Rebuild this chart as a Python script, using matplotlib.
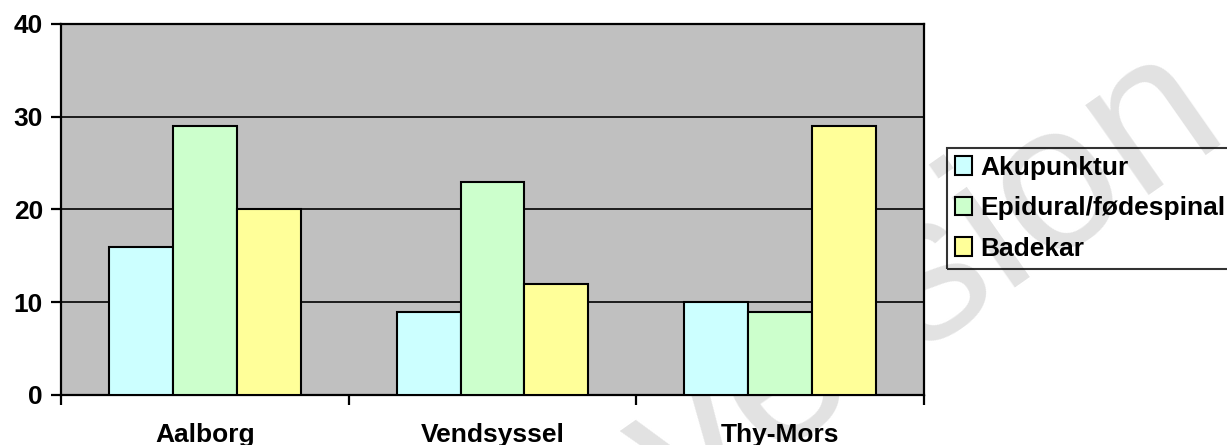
import numpy as np
import matplotlib
matplotlib.use("Agg")
import matplotlib.pyplot as plt

# data
CATEGORIES = ["Aalborg", "Vendsyssel", "Thy-Mors"]
SERIES = ["Akupunktur", "Epidural/fødespinal", "Badekar"]
AKUPUNKTUR = [16, 9, 10]
EPIDURAL = [29, 23, 9]
BADEKAR = [20, 12, 29]
Y_TICKS = [0, 10, 20, 30, 40]

COLORS = ["#CCFFFF", "#CCFFCC", "#FFFF99"]

plt.rcParams["font.family"] = ["Liberation Sans", "DejaVu Sans"]
plt.rcParams["font.weight"] = "bold"

fig = plt.figure(figsize=(12.27, 4.45), dpi=100)
ax = fig.add_axes([61 / 1227, 1 - 395 / 445, (924 - 61) / 1227, (395 - 24) / 445])
ax.set_facecolor("#C0C0C0")

# faint watermark behind the chart
fig.text(0.755, 0.36, "version", fontsize=150, color="#e2e2e2", rotation=35,
         ha="center", va="center", zorder=-5, fontweight="normal")

x = np.arange(len(CATEGORIES))
width = 0.222
for i, (vals, lab) in enumerate(zip([AKUPUNKTUR, EPIDURAL, BADEKAR], SERIES)):
    ax.bar(x + (i - 1) * width, vals, width, color=COLORS[i], edgecolor="black",
           linewidth=1.5, label=lab, zorder=3)

ax.set_xlim(-0.5, 2.5)
ax.set_ylim(0, 40)
ax.set_yticks(Y_TICKS)
ax.grid(True, axis="y", color="black", linewidth=1.2, zorder=1)
ax.set_axisbelow(True)
for s in ax.spines.values():
    s.set_linewidth(1.6)
    s.set_color("black")

ax.tick_params(axis="y", direction="out", length=7, width=1.6, pad=6, labelsize=19)
ax.set_xticks(np.arange(len(CATEGORIES) + 1) - 0.5)
ax.set_xticklabels([])
ax.tick_params(axis="x", which="major", direction="out", length=7, width=1.6)
ax.set_xticks(x, minor=True)
ax.set_xticklabels(CATEGORIES, minor=True, fontsize=19, fontweight="bold")
ax.tick_params(axis="x", which="minor", length=0, pad=20)

leg = fig.legend(loc="upper left", bbox_to_anchor=(947 / 1227, 1 - 148 / 445),
                 borderaxespad=0, fontsize=19, frameon=True, fancybox=False,
                 edgecolor="black", facecolor="none", handlelength=0.65,
                 handleheight=0.7, handletextpad=0.3, borderpad=0.3,
                 labelspacing=0.62)
leg.get_frame().set_linewidth(1.5)
for t in leg.get_texts():
    t.set_fontweight("bold")

fig.savefig("out.png", dpi=100)
